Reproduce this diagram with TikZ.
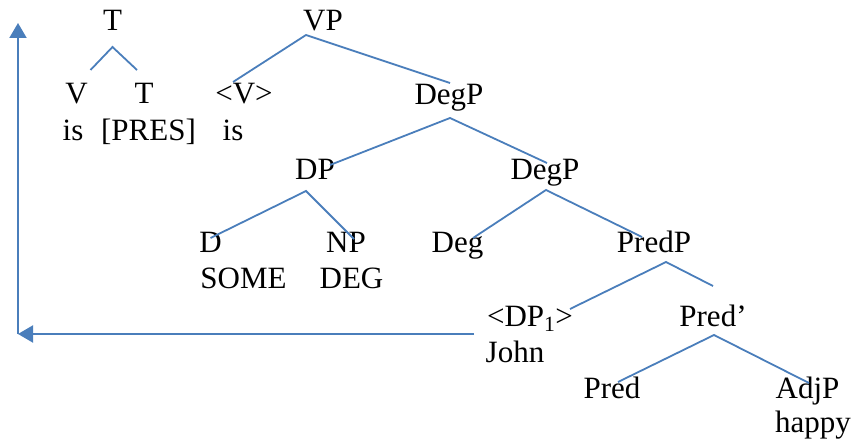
\documentclass[tikz,border=0pt]{standalone}
\usepackage{fontspec}
\setmainfont{Liberation Serif}
\usepackage{xcolor}
\usetikzlibrary{arrows.meta}
\definecolor{linkblue}{HTML}{4A7EBB}

\begin{document}
\begin{tikzpicture}
		[x=1pt,y=-1pt,
		word/.style={anchor=base,inner sep=0pt,font=\fontsize{31}{37}\selectfont},
		branch/.style={draw=linkblue,line width=1.8pt},
		move/.style={draw=linkblue,line width=2pt,-{Triangle[length=15pt,width=17pt]}}]
		\useasboundingbox (0,0) rectangle (855,444);
		% complex head T
		\node[word] (Ttop) at (112.5,31) {T};
		\node[word] (V) at (76.5,103) {V};
		\node[word] (T) at (144,103) {T};
		\node[word] (is1) at (73,140) {is};
		\node[word] (pres) at (148.5,140) {[PRES]};
		% VP
		\node[word] (VP) at (323,31) {VP};
		\node[word] (Vtr) at (244,103) {<V>};
		\node[word] (is2) at (233,140) {is};
		\node[word] (DegPa) at (449,105) {DegP};
		\node[word] (DP) at (315,179) {DP};
		\node[word] (DegPb) at (545,179) {DegP};
		\node[word] (D) at (210.5,252) {D};
		\node[word] (NP) at (346,252) {NP};
		\node[word] (some) at (243.5,288) {SOME};
		\node[word] (deg) at (351.5,288) {DEG};
		\node[word] (Deg) at (457.5,252) {Deg};
		\node[word] (PredP) at (654,252) {PredP};
		\node[word] (DPtr) at (530,326) {<DP\textsubscript{1}>};
		\node[word] (john) at (515,362) {John};
		\node[word] (PredBar) at (713,326) {Pred’};
		\node[word] (Pred) at (612,398) {Pred};
		\node[word] (AdjP) at (807.5,398) {AdjP};
		\node[word] (happy) at (813,432) {happy};
		\coordinate (corner) at (18,334);
		\coordinate (top) at (18,23);

		\draw[branch] ([shift={(14,-33)}]V.base) -- ([shift={(0,16)}]Ttop.base) -- ([shift={(-7,-33)}]T.base);
		\draw[branch] ([shift={(-11,-21)}]Vtr.base) -- ([shift={(-17,4)}]VP.base) -- ([shift={(1,-22)}]DegPa.base);
		\draw[branch] ([shift={(15,-14)}]DP.base) -- ([shift={(1,13)}]DegPa.base) -- ([shift={(2,-16)}]DegPb.base);
		\draw[branch] ([shift={(0,-14)}]D.base) -- ([shift={(-9,12)}]DP.base) -- ([shift={(8,-13)}]NP.base);
		\draw[branch] ([shift={(15.5,-14)}]Deg.base) -- ([shift={(1,11)}]DegPb.base) -- ([shift={(-12,-15)}]PredP.base);
		\draw[branch] ([shift={(40,-17)}]DPtr.base) -- ([shift={(12,10)}]PredP.base) -- ([shift={(0,-40)}]PredBar.base);
		\draw[branch] ([shift={(6,-16)}]Pred.base) -- ([shift={(1,9)}]PredBar.base) -- ([shift={(1.5,-15)}]AdjP.base);
		% movement of the subject
		\draw[move] ([shift={(-56,8)}]DPtr.base) -- (corner);
		\draw[move] (corner) -- (top);
\end{tikzpicture}
\end{document}
